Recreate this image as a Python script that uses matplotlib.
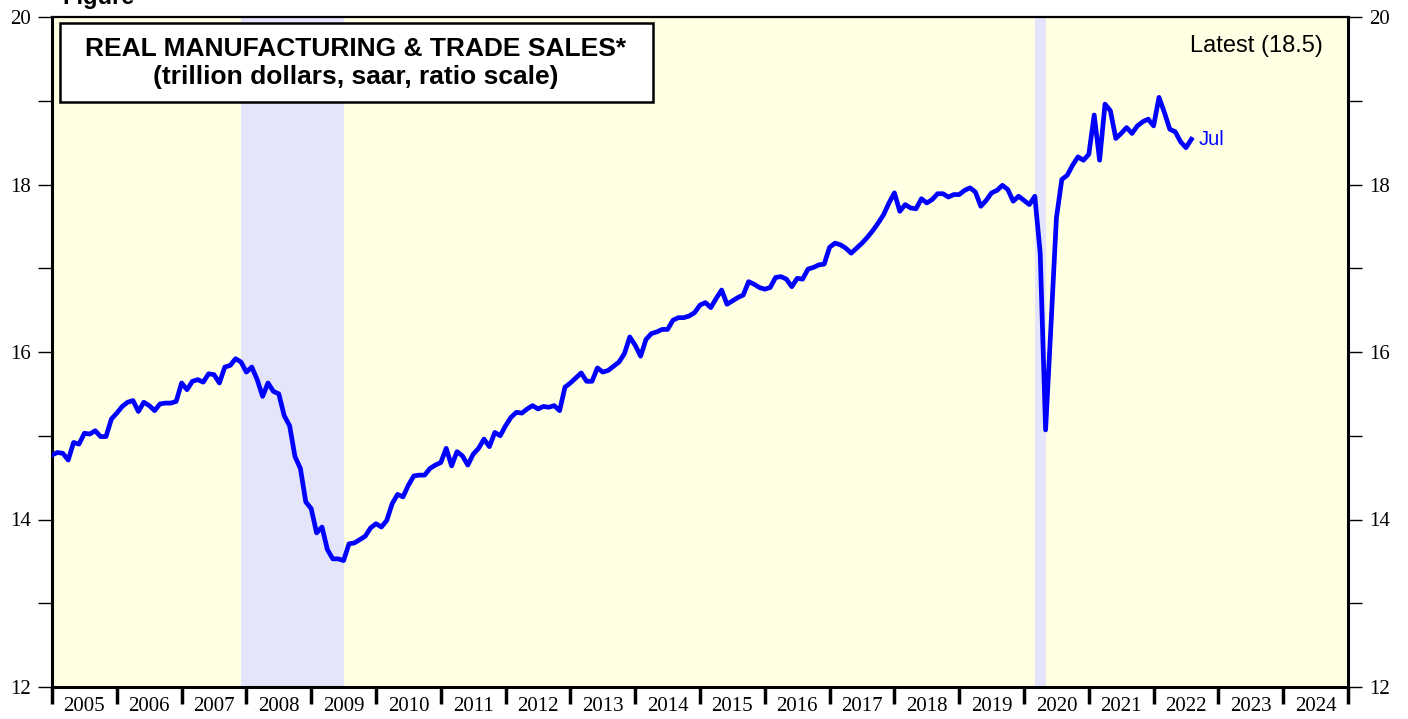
import matplotlib
matplotlib.use("Agg")
import matplotlib.pyplot as plt
from matplotlib.patches import Rectangle

# monthly values, Dec 2004 .. Jul 2022 (trillion dollars)
sales = [
    14.77, 14.80, 14.79, 14.71, 14.92, 14.90, 15.03, 15.02, 15.06, 14.99, 14.99, 15.20,
    15.27, 15.35, 15.40, 15.42, 15.29, 15.40, 15.36, 15.30, 15.38, 15.39, 15.39, 15.41,
    15.63, 15.55, 15.65, 15.67, 15.64, 15.74, 15.73, 15.63, 15.82, 15.84, 15.92, 15.88,
    15.76, 15.82, 15.67, 15.47, 15.63, 15.53, 15.50, 15.24, 15.12, 14.75, 14.61, 14.21,
    14.13, 13.84, 13.91, 13.64, 13.53, 13.53, 13.51, 13.71, 13.72, 13.76, 13.80, 13.90,
    13.95, 13.91, 13.99, 14.19, 14.30, 14.27, 14.41, 14.52, 14.53, 14.53, 14.61, 14.65,
    14.68, 14.85, 14.64, 14.81, 14.76, 14.65, 14.78, 14.85, 14.96, 14.87, 15.04, 15.00,
    15.12, 15.22, 15.28, 15.27, 15.32, 15.36, 15.32, 15.35, 15.34, 15.36, 15.30, 15.58,
    15.63, 15.69, 15.75, 15.65, 15.65, 15.81, 15.76, 15.78, 15.83, 15.88, 15.98, 16.18,
    16.08, 15.95, 16.15, 16.22, 16.24, 16.27, 16.27, 16.38, 16.41, 16.41, 16.43, 16.47,
    16.56, 16.59, 16.53, 16.64, 16.74, 16.57, 16.61, 16.65, 16.68, 16.84, 16.81, 16.77,
    16.75, 16.77, 16.89, 16.90, 16.87, 16.78, 16.88, 16.87, 16.99, 17.01, 17.04, 17.05,
    17.25, 17.30, 17.28, 17.24, 17.18, 17.24, 17.30, 17.37, 17.45, 17.54, 17.64, 17.78,
    17.90, 17.68, 17.76, 17.72, 17.71, 17.83, 17.78, 17.82, 17.89, 17.89, 17.85, 17.88,
    17.88, 17.93, 17.96, 17.91, 17.74, 17.81, 17.90, 17.93, 17.99, 17.94, 17.80, 17.86,
    17.81, 17.76, 17.86, 17.18, 15.07, 16.32, 17.60, 18.06, 18.11, 18.23, 18.33, 18.29,
    18.36, 18.83, 18.29, 18.96, 18.88, 18.55, 18.61, 18.68, 18.61, 18.70, 18.75, 18.78,
    18.70, 19.04, 18.86, 18.66, 18.63, 18.51, 18.44, 18.54,
]
dates = [2005 + i / 12 for i in range(len(sales))]

recessions = [(2007 + 11 / 12, 2009.5), (2020 + 2 / 12, 2020 + 4 / 12)]
years = list(range(2005, 2025))

fig = plt.figure(figsize=(14.08, 7.19), dpi=100)
ax = fig.add_axes([52 / 1408, 1 - 687 / 719, 1296 / 1408, 670 / 719])
ax.set_facecolor("#FFFFE3")

for start, end in recessions:
    ax.axvspan(start, end, color="#E4E4FA", lw=0, zorder=0)

ax.plot(dates, sales, color="#0000FF", lw=3.4, zorder=3, solid_joinstyle="round")

ax.set_xlim(2005, 2025)
ax.set_ylim(12, 20)

# x axis: ticks on year boundaries, labels centered in each year
ax.set_xticks(range(2005, 2026))
ax.set_xticklabels([])
ax.set_xticks([y + 0.5 for y in years], minor=True)
ax.set_xticklabels([str(y) for y in years], minor=True,
                   fontfamily="Liberation Serif", fontsize=15)
ax.tick_params(axis="x", which="major", direction="out", length=12, width=2.5, color="black")
ax.tick_params(axis="x", which="minor", length=0, pad=7)

# y axis: labels on both sides
ax.set_yticks([12, 14, 16, 18, 20])
ax.set_yticks([13, 15, 17, 19], minor=True)
ax.tick_params(axis="y", which="both", direction="out", length=10, width=1,
               left=True, right=True, labelleft=True, labelright=True, pad=5)
for lab in ax.get_yticklabels():
    lab.set_fontfamily("Liberation Serif")
    lab.set_fontsize(15)

for side in ["left", "bottom", "right"]:
    ax.spines[side].set_linewidth(2.2)
ax.spines["top"].set_linewidth(1.6)

# title box
ax.add_patch(Rectangle((8 / 1296, 585 / 670), 593 / 1296, 79 / 670, transform=ax.transAxes,
                       facecolor="white", edgecolor="black", lw=1.8, zorder=5))
ax.text(304 / 1296, 638 / 670, "REAL MANUFACTURING & TRADE SALES*", transform=ax.transAxes,
        ha="center", va="center", fontsize=19, fontweight="bold",
        fontfamily="Liberation Sans", zorder=6)
ax.text(304 / 1296, 610 / 670, "(trillion dollars, saar, ratio scale)", transform=ax.transAxes,
        ha="center", va="center", fontsize=19, fontweight="bold",
        fontfamily="Liberation Sans", zorder=6)

ax.text(1271 / 1296, 641 / 670, "Latest (18.5)", transform=ax.transAxes,
        ha="right", va="center", fontsize=17, fontfamily="Liberation Sans")

ax.annotate("Jul", (dates[-1], sales[-1]), xytext=(5, 0), textcoords="offset points",
            ha="left", va="center", color="#0000FF", fontsize=14.5,
            fontfamily="Liberation Sans")

fig.text(62 / 1408, 1 - 4 / 719, "Figure", fontsize=17, fontweight="bold",
         fontfamily="Liberation Sans", va="baseline")

fig.savefig("out.png", dpi=100)
